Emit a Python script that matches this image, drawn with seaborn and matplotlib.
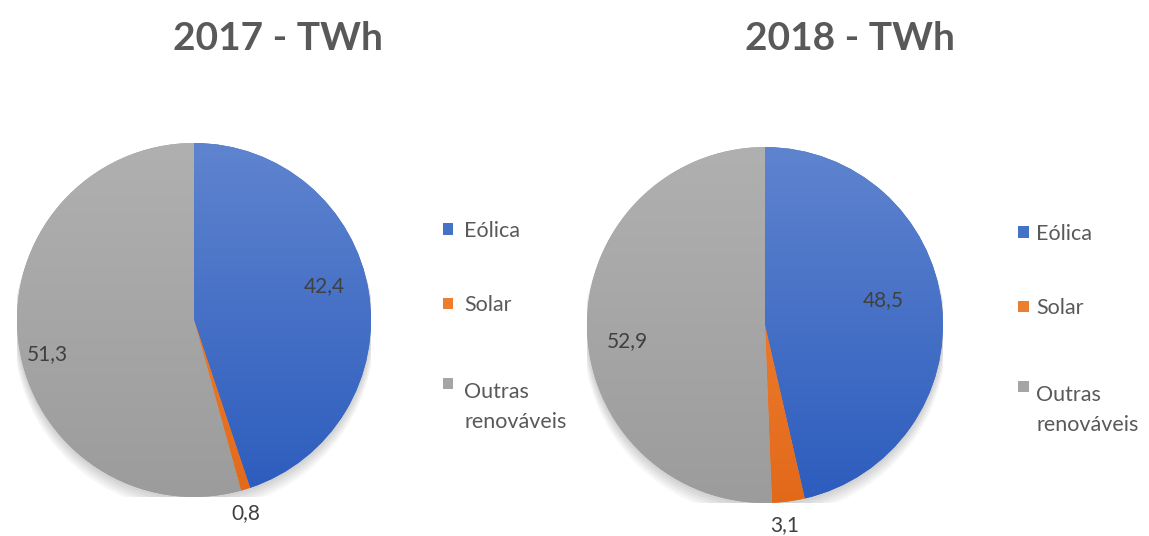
import numpy as np
import seaborn as sns
import matplotlib.pyplot as plt
from matplotlib.colors import LinearSegmentedColormap
from matplotlib.patches import Rectangle, Circle

# data
categories = ["Eólica", "Solar", "Outras\nrenováveis"]
values_2017 = [42.4, 0.8, 51.3]
values_2018 = [48.5, 3.1, 52.9]
titles = ["2017 - TWh", "2018 - TWh"]

sns.set_theme(style="white")
plt.rcParams['font.family'] = ['Lato', 'DejaVu Sans']

base_colors = sns.color_palette(["#4472C4", "#ED7D31", "#A5A5A5"])
# gradient (top, bottom) per slice, office style
gradients = [("#5F84CF", "#2C5CBD"), ("#F28A3E", "#E3691A"), ("#B0B0B0", "#9C9C9C")]

W, H = 1149, 536


def fmt(v):
    return f"{v:.1f}".replace(".", ",")


def draw_pie(ax, values, title_x, title, r_in):
    # soft shadow under the pie
    for k in range(6):
        ax.add_patch(Circle((0.0, -0.012 * k), 1.0 + 0.004 * k, color="black",
                            alpha=0.035, lw=0, zorder=0))
    wedges, _ = ax.pie(values, colors=base_colors, startangle=90, counterclock=False,
                       radius=1.0, wedgeprops=dict(linewidth=0))
    grad = np.linspace(0, 1, 256).reshape(-1, 1)
    for w, (c1, c2) in zip(wedges, gradients):
        cmap = LinearSegmentedColormap.from_list("g", [c1, c2])
        im = ax.imshow(grad, extent=[-1, 1, -1, 1], cmap=cmap, origin="upper",
                       aspect="auto", zorder=2)
        im.set_clip_path(w)

    # data labels: inside for big slices, outside for small ones
    total = sum(values)
    start = 0.0
    for i, v in enumerate(values):
        span = v / total * 360
        if span > 36:
            ang, r = start + span / 2 - 5.5, r_in[i]
        else:
            ang, r = start + span / 2 + 2.0, 1.13
        a = np.deg2rad(ang)
        ax.text(r * np.sin(a), r * np.cos(a), fmt(v), ha="center", va="center",
                fontsize=15, color="#404040", zorder=5)
        start += span

    ax.set_xlim(-1, 1)
    ax.set_ylim(-1, 1)
    ax.set_aspect("equal")
    ax.axis("off")
    fig.text(title_x, 0.929, title, ha="center", va="center", fontsize=28,
             fontweight="bold", color="#595959")


def draw_legend(mx, tx, marker_y, base_y):
    # base_y is the baseline of the last line of each label
    for c, lab, my, by in zip(base_colors, categories, marker_y, base_y):
        fig.patches.append(Rectangle(((mx - 5.5) / W, 1 - (my + 5.5) / H), 11 / W, 11 / H,
                                     transform=fig.transFigure, facecolor=c,
                                     edgecolor="none"))
        fig.text(tx / W, 1 - by / H, lab, ha="left", va="baseline", fontsize=15.5,
                 color="#595959", linespacing=1.62)


fig = plt.figure(figsize=(11.49, 5.36), dpi=100)
ax1 = fig.add_axes([0.0148, 0.0728, 0.3081, 0.6604])
ax2 = fig.add_axes([0.5109, 0.0616, 0.3098, 0.6640])

draw_pie(ax1, values_2017, 0.242, titles[0], [0.76, 0, 0.85])
draw_pie(ax2, values_2018, 0.740, titles[1], [0.68, 0, 0.78])

draw_legend(448, 464, [229, 303, 383], [237, 311, 428])
draw_legend(1023, 1036, [232, 306, 386], [240, 314, 431])

fig.savefig("out.png", dpi=100)
